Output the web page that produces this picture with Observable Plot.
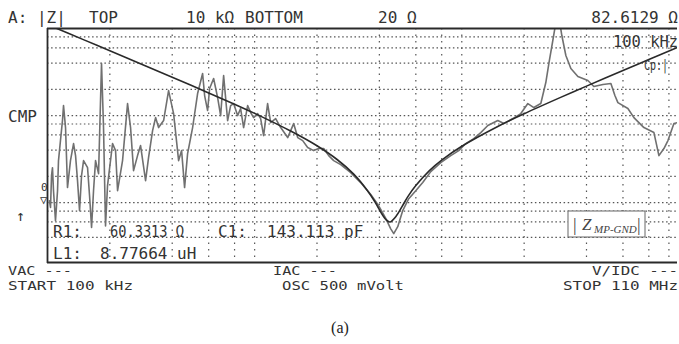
<!DOCTYPE html>
<html><head><meta charset="utf-8">
<script src="https://cdn.jsdelivr.net/npm/d3@7"></script>
<script src="https://cdn.jsdelivr.net/npm/@observablehq/plot@0.6"></script>
<style>body{margin:0;background:#fff}#chart{width:679px;height:344px}</style>
</head><body><div id="chart"></div>
<script>
// Measured |Z| (gray trace): frequency in MHz, impedance in ohms
const measFreqMHz = [0.1022,0.1034,0.1046,0.1057,0.1069,0.1093,0.1118,0.1130,0.1155,0.1181,
0.1195,0.1222,0.1249,0.1291,0.1336,0.1366,0.1396,0.1428,0.1460,0.1493,
0.1561,0.1596,0.1632,0.1668,0.1706,0.1764,0.1823,0.1864,0.1906,0.1949,
0.1993,0.2061,0.2131,0.2179,0.2303,0.2435,0.2518,0.2603,0.2721,0.2814,
0.2975,0.3075,0.3216,0.3325,0.3438,0.3635,0.3842,0.4062,0.4295,0.4440,
0.4590,0.4746,0.5018,0.5304,0.5608,0.5735,0.5929,0.6062,0.6338,0.6627,
0.6852,0.7084,0.7406,0.7657,0.7916,0.8276,0.8557,0.8847,0.9251,0.9566,
0.9890,1.034,1.069,1.105,1.155,1.195,1.263,1.336,1.444,1.543,
1.614,1.706,1.803,1.928,2.038,2.154,2.278,2.408,2.603,2.910,
3.251,3.635,3.972,4.295,4.540,4.694,4.908,5.188,5.546,5.995,
6.479,7.084,7.916,8.847,9.672,10.45,11.43,12.35,13.36,14.93,
15.96,17.64,19.28,20.84,22.28,24.07,25.45,26.32,27.51,29.09,
30.41,31.80,33.62,36.35,40.62,43.42,48.00,52.46,54.85,56.70,
63.38,67.76,75.71,84.64,89.47,94.60,98.90,105.7,110];
const measZ = [105,88,204,252,137,62,137,304,516,876,
1303,728,149,304,477,347,179,81,204,304,
252,120,52,137,304,215,3960,728,54,157,
246,477,396,137,304,1374,728,233,347,452,
179,329,672,948,728,876,1938,1054,304,396,
149,366,728,1790,3039,1698,1142,2044,2663,1610,
1000,2883,876,1303,1374,1000,1204,728,1303,1083,
948,1054,924,589,1374,831,924,728,559,809,
559,516,429,396,418,418,347,304,273,221,
170,124,92,66,50,44,53,81,111,137,
170,227,288,347,396,477,544,638,768,876,
809,924,1054,1374,1236,1374,2395,3960,7280,16000,
8308,4894,3469,2807,2525,2154,2272,2332,1698,1410,
1204,948,728,638,347,418,516,809,830];

// Fitted model |Z| (black trace)
const fitFreqMHz = [0.1,0.15,0.2,0.3,0.4,0.6,0.8,1.0,1.5,2.0,2.5,3.0,3.5,3.8,4.0,4.3,4.5,4.8,5.2,5.5,6,7,8,10,15,20,30,40,60,80,110];
const fitZ = [11100,7400,5550,3690,2760,1820,1350,1060,660,450,313,214,138,103,83,64,60,69,94,118,157,235,308,444,755,1049,1618,2179,3291,4398,6056];

// Grid positions and frame limits
const xGridMHz = [0.2,0.4,0.6,0.8,1,2,4,6,8,10,20,40,60,80,100];
const yGridOhm = [40,60,80,100,200,400,600,800,1000,2000,4000,6000,8000];
const xLimits = [0.1, 110];
const yLimits = [20, 10000];

const n = Math.min(measFreqMHz.length, measZ.length);
const meas = d3.range(n).map(i => ({f: measFreqMHz[i], z: measZ[i]}));
const fit = fitFreqMHz.map((f, i) => ({f, z: fitZ[i]}));

const plot = Plot.plot({
  width: 679, height: 344,
  marginLeft: 47, marginRight: 2, marginTop: 28, marginBottom: 81,
  x: {type: "log", domain: xLimits, axis: null},
  y: {type: "log", domain: yLimits, axis: null},
  style: {background: "white", overflow: "visible"},
  marks: [
    Plot.ruleX(xGridMHz, {stroke: "#555", strokeDasharray: "1.5,5", strokeWidth: 1.2}),
    Plot.ruleY(yGridOhm, {stroke: "#555", strokeDasharray: "1.5,2.6", strokeWidth: 1.2}),
    Plot.line(meas, {x: "f", y: "z", stroke: "#707070", strokeWidth: 1.6, clip: true}),
    Plot.line(fit, {x: "f", y: "z", stroke: "#2a2a2a", strokeWidth: 1.6, curve: "catmull-rom", clip: true}),
    Plot.ruleX([xLimits[0]], {stroke: "#2a2a2a", strokeWidth: 1.8}),
    Plot.ruleY([yLimits[1]], {stroke: "#2a2a2a", strokeWidth: 1.8}),
    Plot.ruleY([yLimits[0]], {stroke: "#2a2a2a", strokeWidth: 2, dy: -1})
  ]
});
document.getElementById("chart").appendChild(plot);

const svg = d3.select(plot);
const mono = "'DejaVu Sans Mono', 'Liberation Mono', monospace";
function t(x, y, s, opts = {}) {
  const el = svg.append("text").attr("x", x).attr("y", y).text(s)
    .attr("font-family", opts.family || mono)
    .attr("font-size", opts.size || 16)
    .attr("fill", opts.fill || "#333")
    .attr("text-anchor", opts.anchor || "start");
  if (opts.style) el.attr("font-style", opts.style);
  if (opts.len) el.attr("textLength", opts.len).attr("lengthAdjust", "spacingAndGlyphs");
  return el;
}
// top header
t(8, 23, "A: |Z|");
t(89, 23, "TOP");
t(186, 23, "10 kΩ");
t(245, 23, "BOTTOM");
t(378, 23, "20 Ω");
t(678, 23, "82.6129 Ω", {anchor: "end"});
// left side
t(8, 122, "CMP");
t(16, 221, "↑", {size: 15});
t(41, 191, "0", {size: 11});
t(40, 204, "▽", {size: 12});
// inside plot top-right
t(613, 47, "100 kHz", {len: 65});
t(644, 70, "Cp:|", {size: 14, len: 24});
// inside plot bottom
t(53, 237, "R1:");
t(110, 237, "60.3313 Ω", {len: 74});
t(218, 237, "C1:");
t(267, 237, "143.113 pF");
t(53, 259, "L1:");
t(100, 259, "8.77664 uH");
// bottom status lines
t(8, 275, "VAC ---", {size: 13, len: 64});
t(8, 290, "START 100 kHz", {size: 13, len: 125});
t(273, 275, "IAC ---", {size: 13, len: 64});
t(282, 290, "OSC 500 mVolt", {size: 13, len: 122});
t(678, 275, "V/IDC ---", {size: 13, anchor: "end", len: 86});
t(678, 290, "STOP 110 MHz", {size: 13, anchor: "end", len: 115});
// label box
svg.append("rect").attr("x", 568).attr("y", 211).attr("width", 77).attr("height", 26)
  .attr("fill", "white").attr("stroke", "#666").attr("stroke-width", 1);
const serif = "'Liberation Serif', 'Times New Roman', serif";
t(573, 231, "|", {family: serif, size: 18, fill: "#444"});
t(582, 230, "Z", {family: serif, size: 17, style: "italic", fill: "#444"});
t(594, 233, "MP-GND", {family: serif, size: 11, style: "italic", fill: "#444"});
t(637, 231, "|", {family: serif, size: 18, fill: "#444"});
// caption
t(340, 333, "(a)", {family: serif, size: 16, anchor: "middle", fill: "#222"});
</script>
</body></html>
